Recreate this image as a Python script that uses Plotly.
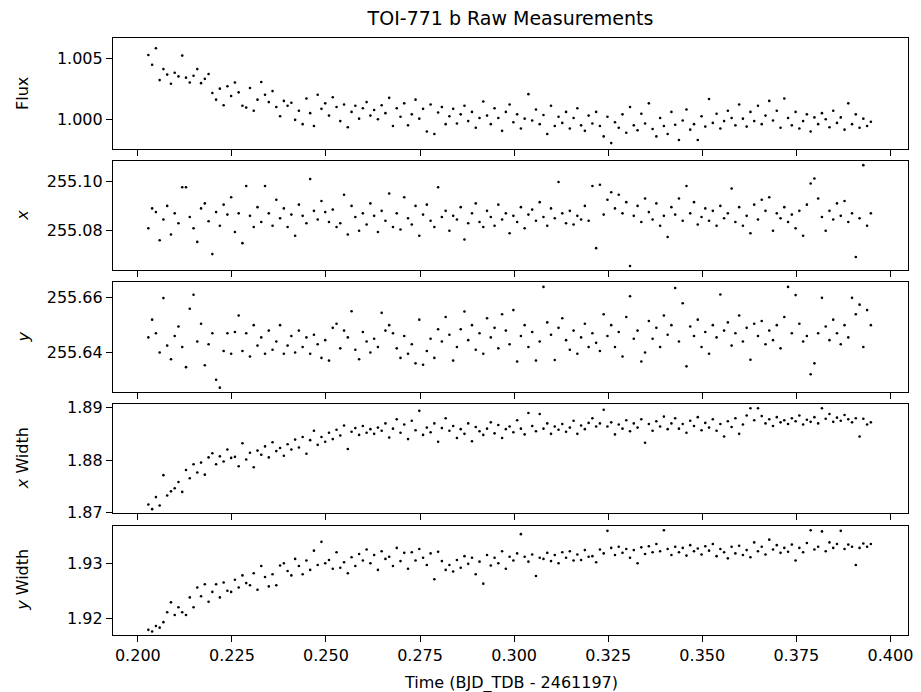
import plotly.graph_objects as go
from plotly.subplots import make_subplots

# time stamps (BJD_TDB - 2461197)
time = [
    0.2028, 0.2038, 0.2048, 0.2058, 0.2068, 0.2078, 0.2088, 0.2098, 0.2108, 0.2118,
    0.2128, 0.2138, 0.2148, 0.2158, 0.2168, 0.2178, 0.2188, 0.2198, 0.2208, 0.2218,
    0.2228, 0.2238, 0.2248, 0.2258, 0.2268, 0.2278, 0.2288, 0.2298, 0.2308, 0.2318,
    0.2328, 0.2338, 0.2348, 0.2358, 0.2368, 0.2378, 0.2388, 0.2398, 0.2408, 0.2418,
    0.2428, 0.2438, 0.2448, 0.2458, 0.2468, 0.2478, 0.2488, 0.2498, 0.2508, 0.2518,
    0.2528, 0.2538, 0.2548, 0.2558, 0.2568, 0.2578, 0.2588, 0.2598, 0.2608, 0.2618,
    0.2628, 0.2638, 0.2648, 0.2658, 0.2668, 0.2678, 0.2688, 0.2698, 0.2708, 0.2718,
    0.2728, 0.2738, 0.2748, 0.2758, 0.2768, 0.2778, 0.2788, 0.2798, 0.2808, 0.2818,
    0.2828, 0.2838, 0.2848, 0.2858, 0.2868, 0.2878, 0.2888, 0.2898, 0.2908, 0.2918,
    0.2928, 0.2938, 0.2948, 0.2958, 0.2968, 0.2978, 0.2988, 0.2998, 0.3008, 0.3018,
    0.3028, 0.3038, 0.3048, 0.3058, 0.3068, 0.3078, 0.3088, 0.3098, 0.3108, 0.3118,
    0.3128, 0.3138, 0.3148, 0.3158, 0.3168, 0.3178, 0.3188, 0.3198, 0.3208, 0.3218,
    0.3228, 0.3238, 0.3248, 0.3258, 0.3268, 0.3278, 0.3288, 0.3298, 0.3308, 0.3318,
    0.3328, 0.3338, 0.3348, 0.3358, 0.3368, 0.3378, 0.3388, 0.3398, 0.3408, 0.3418,
    0.3428, 0.3438, 0.3448, 0.3458, 0.3468, 0.3478, 0.3488, 0.3498, 0.3508, 0.3518,
    0.3528, 0.3538, 0.3548, 0.3558, 0.3568, 0.3578, 0.3588, 0.3598, 0.3608, 0.3618,
    0.3628, 0.3638, 0.3648, 0.3658, 0.3668, 0.3678, 0.3688, 0.3698, 0.3708, 0.3718,
    0.3728, 0.3738, 0.3748, 0.3758, 0.3768, 0.3778, 0.3788, 0.3798, 0.3808, 0.3818,
    0.3828, 0.3838, 0.3848, 0.3858, 0.3868, 0.3878, 0.3888, 0.3898, 0.3908, 0.3918,
    0.3928, 0.3938, 0.3948,
]

flux = [
    1.00525, 1.00445, 1.00580, 1.00320, 1.00410, 1.00365, 1.00290, 1.00380, 1.00350, 1.00520,
    1.00340, 1.00300, 1.00355, 1.00410, 1.00295, 1.00330, 1.00370, 1.00215, 1.00160, 1.00250,
    1.00115, 1.00270, 1.00190, 1.00300, 1.00220, 1.00110, 1.00095, 1.00255, 1.00070, 1.00160,
    1.00305, 1.00200, 1.00140, 1.00230, 1.00100, 1.00025, 1.00150, 1.00110, 1.00135, 0.99995,
    1.00070, 0.99960, 1.00170, 1.00050, 0.99945, 1.00200, 1.00085, 1.00130, 1.00030, 1.00180,
    1.00100, 0.99985, 1.00120, 0.99935, 1.00060, 1.00110, 1.00005, 1.00090, 1.00140, 1.00030,
    1.00075, 1.00000, 1.00115, 1.00050, 1.00175, 0.99945, 1.00090, 1.00020, 1.00130, 0.99950,
    1.00040, 1.00160, 1.00005, 1.00085, 0.99900, 1.00120, 0.99880, 1.00055, 1.00100, 0.99960,
    1.00025, 1.00085, 0.99965, 1.00040, 1.00110, 0.99985, 1.00060, 0.99930, 1.00010, 1.00145,
    1.00030, 0.99960, 1.00090, 1.00010, 0.99905, 1.00060, 1.00120, 0.99975, 1.00040, 0.99925,
    1.00005, 1.00205, 0.99990, 1.00080, 0.99960, 1.00035, 0.99880, 1.00110, 0.99945, 1.00020,
    0.99970, 1.00060, 0.99925, 1.00010, 1.00090, 0.99950, 0.99905, 1.00030, 0.99965, 1.00060,
    0.99945, 0.99860, 1.00020, 0.99805, 0.99975, 0.99930, 1.00040, 0.99890, 1.00100, 0.99950,
    0.99910, 1.00045, 0.99965, 1.00130, 0.99920, 0.99860, 1.00010, 0.99945, 0.99880, 1.00060,
    0.99955, 0.99830, 0.99990, 1.00080, 0.99915, 0.99960, 0.99830, 1.00025, 0.99940, 1.00165,
    0.99970, 1.00045, 0.99925, 0.99985, 1.00070, 1.00010, 0.99950, 1.00120, 1.00005, 0.99940,
    1.00060, 0.99985, 1.00110, 0.99960, 1.00030, 1.00150, 0.99990, 1.00070, 0.99930, 1.00170,
    1.00010, 0.99950, 1.00060, 0.99925, 0.99985, 1.00040, 0.99900, 1.00015, 0.99960, 1.00050,
    1.00000, 0.99935, 1.00070, 0.99970, 1.00015, 0.99915, 1.00130, 0.99960, 1.00040, 0.99930,
    1.00005, 0.99945, 0.99980,
]

x_pos = [
    255.0810, 255.0890, 255.0875, 255.0762, 255.0845, 255.0900, 255.0785, 255.0870, 255.0830, 255.0975,
    255.0975, 255.0855, 255.0810, 255.0755, 255.0890, 255.0910, 255.0838, 255.0706, 255.0875, 255.0820,
    255.0905, 255.0865, 255.0935, 255.0795, 255.0870, 255.0750, 255.0980, 255.0860, 255.0815, 255.0895,
    255.0835, 255.0980, 255.0870, 255.0820, 255.0925, 255.0850, 255.0890, 255.0815, 255.0865, 255.0780,
    255.0905, 255.0860, 255.0830, 255.1008, 255.0880, 255.0845, 255.0920, 255.0875, 255.0835, 255.0885,
    255.0815, 255.0830, 255.0945, 255.0785, 255.0900, 255.0855, 255.0800, 255.0870, 255.0825, 255.0910,
    255.0860, 255.0795, 255.0880, 255.0840, 255.0950, 255.0815, 255.0870, 255.0805, 255.0935, 255.0850,
    255.0825, 255.0900, 255.0780, 255.0865, 255.0905, 255.0840, 255.0815, 255.0975, 255.0855, 255.0880,
    255.0800, 255.0860, 255.0845, 255.0895, 255.0765, 255.0830, 255.0870, 255.0910, 255.0835, 255.0815,
    255.0880, 255.0855, 255.0820, 255.0905, 255.0845, 255.0870, 255.0790, 255.0860, 255.0835, 255.0895,
    255.0810, 255.0865, 255.0885, 255.0840, 255.0915, 255.0855, 255.0820, 255.0890, 255.0850, 255.0996,
    255.0870, 255.0830, 255.0880, 255.0825, 255.0860, 255.0845, 255.0900, 255.0840, 255.0980, 255.0730,
    255.0985, 255.0865, 255.0925, 255.0955, 255.0890, 255.0945, 255.0870, 255.0915, 255.0658, 255.0860,
    255.0900, 255.0835, 255.0930, 255.0875, 255.0845, 255.0910, 255.0820, 255.0860, 255.0775, 255.0895,
    255.0865, 255.0930, 255.0840, 255.0980, 255.0870, 255.0915, 255.0825, 255.0855, 255.0890, 255.0840,
    255.0880, 255.0820, 255.0900, 255.0850, 255.0870, 255.0970, 255.0835, 255.0895, 255.0820, 255.0860,
    255.0790, 255.0905, 255.0845, 255.0925, 255.0880, 255.0935, 255.0800, 255.0870, 255.0850, 255.0895,
    255.0835, 255.0865, 255.0810, 255.0880, 255.0780, 255.0905, 255.0990, 255.1010, 255.0930, 255.0855,
    255.0800, 255.0880, 255.0845, 255.0910, 255.0860, 255.0920, 255.0835, 255.0870, 255.0694, 255.0850,
    255.1064, 255.0820, 255.0870,
]

y_pos = [
    255.6455, 255.6520, 255.6470, 255.6400, 255.6599, 255.6425, 255.6375, 255.6460, 255.6495, 255.6420,
    255.6346, 255.6560, 255.6611, 255.6440, 255.6505, 255.6353, 255.6430, 255.6470, 255.6300, 255.6271,
    255.6405, 255.6470, 255.6395, 255.6475, 255.6535, 255.6405, 255.6470, 255.6385, 255.6500, 255.6425,
    255.6455, 255.6395, 255.6480, 255.6410, 255.6440, 255.6500, 255.6395, 255.6425, 255.6460, 255.6400,
    255.6480, 255.6420, 255.6455, 255.6395, 255.6465, 255.6430, 255.6380, 255.6445, 255.6370, 255.6490,
    255.6505, 255.6415, 255.6480, 255.6455, 255.6551, 255.6410, 255.6375, 255.6475, 255.6440, 255.6400,
    255.6450, 255.6420, 255.6545, 255.6480, 255.6500, 255.6470, 255.6415, 255.6380, 255.6460, 255.6395,
    255.6430, 255.6360, 255.6520, 255.6355, 255.6405, 255.6450, 255.6380, 255.6485, 255.6440, 255.6530,
    255.6465, 255.6370, 255.6420, 255.6485, 255.6550, 255.6445, 255.6500, 255.6410, 255.6470, 255.6395,
    255.6525, 255.6455, 255.6490, 255.6415, 255.6540, 255.6480, 255.6430, 255.6555, 255.6367, 255.6460,
    255.6500, 255.6420, 255.6475, 255.6370, 255.6440, 255.6640, 255.6510, 255.6465, 255.6372, 255.6490,
    255.6525, 255.6445, 255.6410, 255.6480, 255.6395, 255.6455, 255.6505, 255.6420, 255.6470, 255.6435,
    255.6405, 255.6540, 255.6460, 255.6500, 255.6420, 255.6475, 255.6385, 255.6530, 255.6606, 255.6450,
    255.6480, 255.6367, 255.6400, 255.6515, 255.6450, 255.6490, 255.6420, 255.6535, 255.6465, 255.6500,
    255.6636, 255.6440, 255.6580, 255.6349, 255.6495, 255.6460, 255.6520, 255.6420, 255.6475, 255.6395,
    255.6500, 255.6455, 255.6612, 255.6480, 255.6510, 255.6425, 255.6470, 255.6535, 255.6440, 255.6490,
    255.6373, 255.6505, 255.6460, 255.6515, 255.6430, 255.6480, 255.6445, 255.6500, 255.6415, 255.6530,
    255.6640, 255.6470, 255.6610, 255.6505, 255.6440, 255.6460, 255.6320, 255.6360, 255.6470, 255.6600,
    255.6495, 255.6445, 255.6520, 255.6470, 255.6430, 255.6500, 255.6455, 255.6600, 255.6540, 255.6575,
    255.6420, 255.6555, 255.6500,
]

x_width = [
    1.87150, 1.87060, 1.87290, 1.87130, 1.87710, 1.87320, 1.87400, 1.87460, 1.87580, 1.87390,
    1.87810, 1.87650, 1.87920, 1.87760, 1.87950, 1.87720, 1.88050, 1.88130, 1.87920, 1.88070,
    1.87970, 1.88200, 1.88040, 1.88060, 1.87880, 1.88320, 1.88010, 1.88140, 1.87860, 1.88180,
    1.88100, 1.88260, 1.88050, 1.88340, 1.88170, 1.88230, 1.88080, 1.88300, 1.88200, 1.88390,
    1.88240, 1.88440, 1.88120, 1.88380, 1.88560, 1.88290, 1.88440, 1.88350, 1.88520, 1.88400,
    1.88580, 1.88470, 1.88660, 1.88210, 1.88540, 1.88610, 1.88480, 1.88650, 1.88520, 1.88590,
    1.88500, 1.88620, 1.88560, 1.88700, 1.88430, 1.88600, 1.88780, 1.88520, 1.88680, 1.88400,
    1.88750, 1.88570, 1.88940, 1.88480, 1.88620, 1.88530, 1.88700, 1.88350, 1.88610, 1.88800,
    1.88560, 1.88650, 1.88420, 1.88590, 1.88500, 1.88700, 1.88360, 1.88630, 1.88550, 1.88480,
    1.88600, 1.88720, 1.88510, 1.88670, 1.88420, 1.88590, 1.88640, 1.88530, 1.88760, 1.88600,
    1.88490, 1.88900, 1.88650, 1.88550, 1.88880, 1.88600, 1.88700, 1.88500, 1.88640, 1.88580,
    1.88690, 1.88540, 1.88620, 1.88750, 1.88500, 1.88660, 1.88590, 1.88710, 1.88800, 1.88640,
    1.88700, 1.88960, 1.88640, 1.88720, 1.88490, 1.88680, 1.88600, 1.88760, 1.88550, 1.88700,
    1.88620, 1.88780, 1.88330, 1.88690, 1.88560, 1.88740, 1.88640, 1.88830, 1.88590, 1.88700,
    1.88800, 1.88600, 1.88690, 1.88520, 1.88750, 1.88650, 1.88820, 1.88570, 1.88710, 1.88620,
    1.88780, 1.88560, 1.88690, 1.88450, 1.88740, 1.88630, 1.88800, 1.88500, 1.88680, 1.88850,
    1.88990, 1.88760, 1.88990, 1.88840, 1.88700, 1.88780, 1.88650, 1.88820, 1.88720, 1.88760,
    1.88690, 1.88800, 1.88740, 1.88850, 1.88680, 1.88770, 1.88730, 1.88820, 1.88700, 1.88990,
    1.88790, 1.88880, 1.88730, 1.88810, 1.88750, 1.88860, 1.88780, 1.88720, 1.88800, 1.88450,
    1.88790, 1.88680, 1.88720,
]

y_width = [
    1.91790, 1.91760, 1.91860, 1.91830, 1.91930, 1.92110, 1.92290, 1.92060, 1.92200, 1.92110,
    1.92060, 1.92380, 1.92200, 1.92560, 1.92400, 1.92620, 1.92300, 1.92480, 1.92620, 1.92380,
    1.92650, 1.92500, 1.92480, 1.92700, 1.92560, 1.92780, 1.92640, 1.92600, 1.92820, 1.92520,
    1.92950, 1.92750, 1.92580, 1.92800, 1.92600, 1.92960, 1.93000, 1.92860, 1.92780, 1.93080,
    1.92950, 1.92800, 1.93050, 1.92880, 1.93230, 1.92970, 1.93390, 1.93000, 1.93060, 1.92900,
    1.93200, 1.92920, 1.93020, 1.92820, 1.93110, 1.92950, 1.93170, 1.93050, 1.93250, 1.93000,
    1.93150, 1.92880, 1.93220, 1.93080, 1.93120, 1.92950, 1.93280, 1.93040, 1.93190, 1.92900,
    1.93200, 1.93050, 1.93260, 1.93100, 1.92970, 1.93180, 1.92710, 1.93210, 1.93040, 1.92880,
    1.92970, 1.92850, 1.93060, 1.92920, 1.93130, 1.92990, 1.93100, 1.92800, 1.93030, 1.92630,
    1.93150, 1.92960, 1.93100, 1.93000, 1.93220, 1.92900, 1.93120, 1.93050, 1.93180, 1.93530,
    1.93120, 1.93030, 1.93160, 1.92770, 1.93100, 1.93080, 1.93190, 1.93040, 1.93150, 1.93000,
    1.93200, 1.93100, 1.93220, 1.93050, 1.93160, 1.93060, 1.93240, 1.93120, 1.93130, 1.93020,
    1.93250, 1.93180, 1.93590, 1.93280, 1.93150, 1.93300, 1.93190, 1.93260, 1.93100, 1.93240,
    1.93000, 1.93290, 1.93170, 1.93310, 1.93200, 1.93350, 1.93220, 1.93600, 1.93260, 1.93150,
    1.93300, 1.93200, 1.93280, 1.93140, 1.93330, 1.93220, 1.93270, 1.93160, 1.93310, 1.93230,
    1.93350, 1.93130, 1.93260, 1.93200, 1.93090, 1.93300, 1.93180, 1.93320, 1.93150, 1.93240,
    1.93110, 1.93380, 1.93220, 1.93300, 1.93160, 1.93430, 1.93250, 1.93330, 1.93190, 1.93280,
    1.93210, 1.93340, 1.93050, 1.93280, 1.93200, 1.93370, 1.93600, 1.93250, 1.93300, 1.93580,
    1.93220, 1.93380, 1.93280, 1.93350, 1.93590, 1.93260, 1.93340, 1.93300, 1.92970, 1.93280,
    1.93360, 1.93300, 1.93350,
]

panels = [flux, x_pos, y_pos, x_width, y_width]
ylabels = ["Flux", "<i>x</i>", "<i>y</i>", "<i>x</i> Width", "<i>y</i> Width"]
yticks = [[1.000, 1.005], [255.08, 255.10], [255.64, 255.66], [1.87, 1.88, 1.89], [1.92, 1.93]]
yfmt = [".3f", ".2f", ".2f", ".2f", ".2f"]
yranges = [[0.99757, 1.00664], [255.0642, 255.1082], [255.6255, 255.6658],
           [1.86981, 1.89071], [1.91696, 1.93684]]
domains = [[0.8141, 1.0], [0.6114, 0.7945], [0.4070, 0.5913], [0.2039, 0.3869], [0.0, 0.1831]]
xticks = [0.200, 0.225, 0.250, 0.275, 0.300, 0.325, 0.350, 0.375, 0.400]

FONT = "DejaVu Sans"

fig = make_subplots(rows=5, cols=1, shared_xaxes=True, vertical_spacing=0.02)

for i, vals in enumerate(panels):
    fig.add_trace(go.Scatter(x=time, y=vals, mode="markers",
                             marker=dict(size=2.6, color="black"),
                             showlegend=False), row=i + 1, col=1)
    fig.update_yaxes(range=yranges[i], domain=domains[i], tickvals=yticks[i],
                     tickformat=yfmt[i], row=i + 1, col=1)
    fig.add_annotation(text=ylabels[i], xref="paper", yref="paper",
                       x=-0.1138, y=sum(domains[i]) / 2, textangle=-90,
                       showarrow=False, xanchor="center", yanchor="middle",
                       font=dict(family=FONT, size=16, color="black"))

axis_style = dict(showline=True, linecolor="black", linewidth=1.2, mirror=True,
                  ticks="outside", ticklen=6, tickwidth=1.2, tickcolor="black",
                  showgrid=False, zeroline=False,
                  tickfont=dict(family=FONT, size=16, color="black"))
fig.update_xaxes(range=[0.19340, 0.40467], tickvals=xticks, tickformat=".3f", **axis_style)
fig.update_yaxes(**axis_style)

fig.add_annotation(text="Time (BJD_TDB - 2461197)", xref="paper", yref="paper",
                   x=0.5, y=-0.0804, showarrow=False, xanchor="center", yanchor="middle",
                   font=dict(family=FONT, size=16, color="black"))

# the page body adds an 8px offset, so the figure is 8px smaller than the window
fig.update_layout(
    width=913, height=684,
    margin=dict(l=105, r=8, t=30, b=57),
    plot_bgcolor="white", paper_bgcolor="white",
    title=dict(text="TOI-771 b Raw Measurements", x=0.5, xref="paper",
               y=1 - 10 / 684, yref="container", xanchor="center", yanchor="middle",
               font=dict(family=FONT, size=19, color="black")),
)

fig.write_html("out.html")
